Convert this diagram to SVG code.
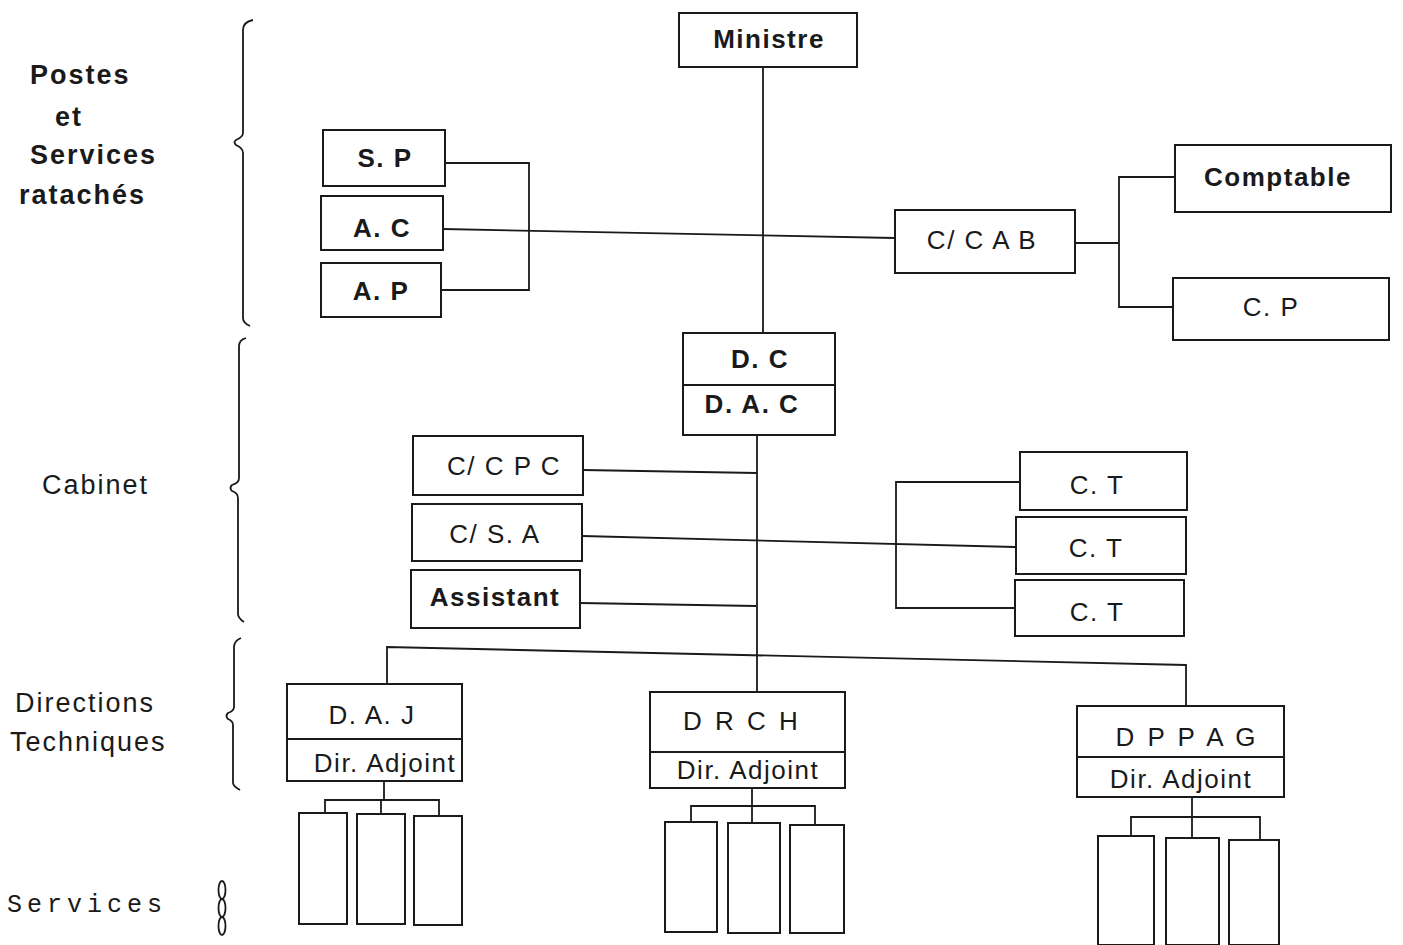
<svg xmlns="http://www.w3.org/2000/svg" width="1403" height="945" viewBox="0 0 1403 945">
<style>
.box{fill:#fff;stroke:#1a1a1a;stroke-width:2}
.ln{fill:none;stroke:#1a1a1a;stroke-width:1.8}
.br{fill:none;stroke:#1a1a1a;stroke-width:1.8;stroke-linejoin:round}
.t{font-family:"Liberation Sans",Arial,sans-serif;font-size:26px;fill:#1a1a1a;text-anchor:middle;letter-spacing:1.5px}
.b{font-weight:bold}
.lab{font-family:"Liberation Sans",Arial,sans-serif;font-size:27px;fill:#1a1a1a;letter-spacing:2px}
.mono{font-family:"Liberation Mono","Courier New",monospace;font-size:25px;fill:#1a1a1a;letter-spacing:5px}
</style>
<rect width="1403" height="945" fill="#fff"/>
<g id="connectors">
<path class="ln" d="M763,67 V333"/>
<path class="ln" d="M445,163 H529 V290 H441"/>
<path class="ln" d="M443,229 L895,238"/>
<path class="ln" d="M1075,243 H1119 M1175,177 H1119 V307 H1173"/>
<path class="ln" d="M757,435 V692"/>
<path class="ln" d="M583,470 L757,473"/>
<path class="ln" d="M582,536 L1015,547"/>
<path class="ln" d="M580,603 L756,606"/>
<path class="ln" d="M1020,482 H896 V608 H1015"/>
<path class="ln" d="M387,685 V647 L1186,665 V707"/>
<path class="ln" d="M384,781 V800 M325,813 V800 H439 V816 M381,800 V814"/>
<path class="ln" d="M752,788 V806 M691,822 V806 H815 V825 M752,806 V823"/>
<path class="ln" d="M1192,797 V817 M1131,836 V817 H1260 V840 M1192,817 V838"/>
</g>
<g id="braces">
<path class="br" d="M253,20 Q243,22 243,30 V133 Q243,137 236,140 Q233,142 236,145 Q243,148 243,153 V318 Q243,323 250,326"/>
<path class="br" d="M246,338 Q239,340 239,346 V478 Q239,483 232,485 Q229,488 232,491 Q238,493 238,498 V614 Q238,618 244,622"/>
<path class="br" d="M241,638 Q234,641 234,647 V707 Q234,711 228,713 Q225,716 228,719 Q233,721 233,725 V783 Q233,786 240,790"/>
<g class="br">
<ellipse cx="222" cy="890" rx="3.5" ry="9"/>
<ellipse cx="222" cy="908" rx="3.5" ry="9"/>
<ellipse cx="222" cy="926" rx="3.5" ry="9"/>
</g>
</g>
<g id="labels">
<text class="lab b" x="30" y="84">Postes</text>
<text class="lab b" x="55" y="126">et</text>
<text class="lab b" x="30" y="164">Services</text>
<text class="lab b" x="19" y="204">ratachés</text>
<text class="lab" x="42" y="494">Cabinet</text>
<text class="lab" x="15" y="712">Directions</text>
<text class="lab" x="10" y="751">Techniques</text>
<text class="mono" x="7" y="912">Services</text>
</g>
<g id="n-ministre"><rect class="box" x="679" y="13" width="178" height="54"/><text class="t b" x="769" y="48">Ministre</text></g>
<g id="n-sp"><rect class="box" x="323" y="130" width="122" height="56"/><text class="t b" x="385" y="167">S. P</text></g>
<g id="n-ac"><rect class="box" x="321" y="196" width="122" height="54"/><text class="t b" x="382" y="237">A. C</text></g>
<g id="n-ap"><rect class="box" x="321" y="263" width="120" height="54"/><text class="t b" x="381" y="300">A. P</text></g>
<g id="n-ccab"><rect class="box" x="895" y="210" width="180" height="63"/><text class="t" x="982" y="249">C/ C A B</text></g>
<g id="n-comptable"><rect class="box" x="1175" y="145" width="216" height="67"/><text class="t b" x="1278" y="186">Comptable</text></g>
<g id="n-cp"><rect class="box" x="1173" y="278" width="216" height="62"/><text class="t" x="1271" y="316">C. P</text></g>
<g id="n-dc"><rect class="box" x="683" y="333" width="152" height="102"/><path class="ln" d="M683,385 H835"/><text class="t b" x="760" y="368">D. C</text><text class="t b" x="752" y="413">D. A. C</text></g>
<g id="n-ccpc"><rect class="box" x="413" y="436" width="170" height="59"/><text class="t" x="504" y="475">C/ C P C</text></g>
<g id="n-csa"><rect class="box" x="412" y="504" width="170" height="57"/><text class="t" x="495" y="543">C/ S. A</text></g>
<g id="n-assistant"><rect class="box" x="411" y="570" width="169" height="58"/><text class="t b" x="495" y="606">Assistant</text></g>
<g id="n-ct1"><rect class="box" x="1020" y="452" width="167" height="58"/><text class="t" x="1097" y="494">C. T</text></g>
<g id="n-ct2"><rect class="box" x="1016" y="517" width="170" height="57"/><text class="t" x="1096" y="557">C. T</text></g>
<g id="n-ct3"><rect class="box" x="1015" y="580" width="169" height="56"/><text class="t" x="1097" y="621">C. T</text></g>
<g id="n-daj"><rect class="box" x="287" y="684" width="175" height="97"/><path class="ln" d="M287,739 H462"/><text class="t" x="372" y="724">D. A. J</text><text class="t" x="385" y="772">Dir. Adjoint</text></g>
<g id="n-drch"><rect class="box" x="650" y="692" width="195" height="96"/><path class="ln" d="M650,752 H845"/><text class="t" x="742" y="730" style="letter-spacing:3px">D R C H</text><text class="t" x="748" y="779">Dir. Adjoint</text></g>
<g id="n-dppag"><rect class="box" x="1077" y="706" width="207" height="91"/><path class="ln" d="M1077,757 H1284"/><text class="t" x="1187" y="746" style="letter-spacing:3px">D P P A G</text><text class="t" x="1181" y="788">Dir. Adjoint</text></g>
<g id="n-services-daj">
<rect class="box" x="299" y="813" width="48" height="111"/>
<rect class="box" x="357" y="814" width="48" height="110"/>
<rect class="box" x="414" y="816" width="48" height="109"/>
</g>
<g id="n-services-drch">
<rect class="box" x="665" y="822" width="52" height="110"/>
<rect class="box" x="728" y="823" width="52" height="110"/>
<rect class="box" x="790" y="825" width="54" height="108"/>
</g>
<g id="n-services-dppag">
<rect class="box" x="1098" y="836" width="56" height="109"/>
<rect class="box" x="1166" y="838" width="53" height="107"/>
<rect class="box" x="1229" y="840" width="50" height="105"/>
</g>
</svg>
